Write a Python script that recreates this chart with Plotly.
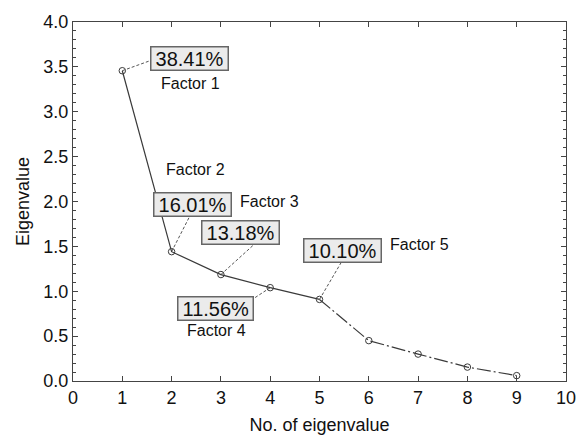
import plotly.graph_objects as go

eig_no = [1, 2, 3, 4, 5, 6, 7, 8, 9]
eigenvalues = [3.457, 1.441, 1.186, 1.040, 0.909, 0.45, 0.30, 0.155, 0.06]
pct_labels = ["38.41%", "16.01%", "13.18%", "11.56%", "10.10%"]
factor_names = ["Factor 1", "Factor 2", "Factor 3", "Factor 4", "Factor 5"]
x_ticks = list(range(0, 11))
y_ticks = [0.0, 0.5, 1.0, 1.5, 2.0, 2.5, 3.0, 3.5, 4.0]

# label placement (data coords): box centre, connector end, factor-text position
box_pos = [(2.37, 3.59), (2.43, 1.97), (3.40, 1.66), (2.90, 0.81), (5.47, 1.45)]
conn_end = [(1.57, 3.57), (2.39, 1.86), (3.69, 1.53), (3.64, 0.91), (5.45, 1.33)]
fac_pos = [(2.38, 3.32), (2.49, 2.36), (3.98, 2.00), (2.92, 0.56), (7.02, 1.52)]

FONT = "Liberation Sans, Arial, sans-serif"
LC = "#3a3a3a"
TC = "#111111"
PAD = "\u2009"

fig = go.Figure()

# connectors
for i in range(5):
    fig.add_trace(go.Scatter(
        x=[eig_no[i], conn_end[i][0]], y=[eigenvalues[i], conn_end[i][1]],
        mode="lines", line=dict(color="#555555", width=1, dash="3px,2px"),
        showlegend=False, hoverinfo="skip"))

# solid part
fig.add_trace(go.Scatter(x=eig_no[:5], y=eigenvalues[:5], mode="lines",
                         line=dict(color=LC, width=1.2), showlegend=False))
# dash-dot part
fig.add_trace(go.Scatter(x=eig_no[4:], y=eigenvalues[4:], mode="lines",
                         line=dict(color=LC, width=1.2, dash="14px,3px,2px,3px"),
                         showlegend=False))
fig.add_trace(go.Scatter(x=eig_no, y=eigenvalues, mode="markers",
                         marker=dict(symbol="circle-open", size=6.5,
                                     color=LC, line=dict(width=1, color=LC)),
                         showlegend=False))

for i in range(5):
    fig.add_annotation(x=box_pos[i][0], y=box_pos[i][1], text=PAD + pct_labels[i] + PAD,
                       showarrow=False, font=dict(family=FONT, size=20, color=TC),
                       bgcolor="#ebebeb", bordercolor="#666666", borderwidth=1.5,
                       borderpad=0)
    fig.add_annotation(x=fac_pos[i][0], y=fac_pos[i][1], text=factor_names[i],
                       showarrow=False, font=dict(family=FONT, size=16, color=TC))

axis_common = dict(showline=True, linecolor="#444", linewidth=1.2, mirror="allticks",
                   ticks="inside", tickcolor="#444", ticklen=5, showgrid=False,
                   zeroline=False, tickfont=dict(family=FONT, size=18, color=TC))

fig.update_xaxes(range=[0, 10], tickvals=x_ticks,
                 title=dict(text="No. of eigenvalue", font=dict(family=FONT, size=18, color=TC),
                            standoff=11),
                 **axis_common)
fig.update_yaxes(range=[0, 4], tickvals=y_ticks,
                 ticktext=[f"{v:.1f}" for v in y_ticks],
                 minor=dict(ticks="inside", dtick=0.1, ticklen=3, tickcolor="#444"),
                 title=dict(text="Eigenvalue", font=dict(family=FONT, size=18, color=TC),
                            standoff=8),
                 **axis_common)

fig.update_layout(width=588, height=444, margin=dict(l=73, r=12, t=15, b=63),
                  plot_bgcolor="white", paper_bgcolor="white",
                  font=dict(family=FONT))

fig.write_html("out.html")
